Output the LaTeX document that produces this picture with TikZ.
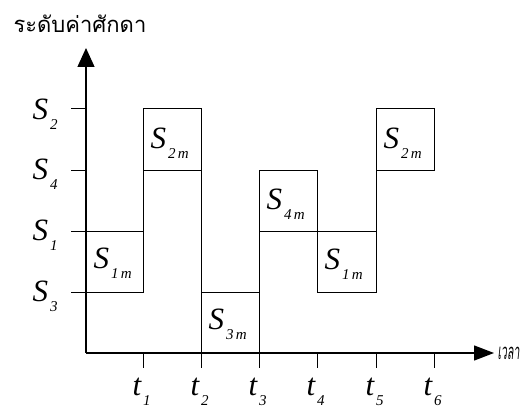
\documentclass[tikz,border=0pt]{standalone}
\usepackage{fontspec}
\setmainfont{Liberation Serif}
\newfontfamily\thaifont[Script=Thai]{Loma}
\usetikzlibrary{arrows.meta}
\newcommand{\bigS}[2]{{\fontsize{31}{31}\selectfont\itshape #1}\hspace{2pt}\raisebox{-10pt}{\fontsize{15}{15}\selectfont\itshape #2}}
\begin{document}
\begin{tikzpicture}[x=1pt,y=-1pt,line width=1pt,
  axis/.style={line width=1.3pt},
  lab/.style={inner sep=0pt,anchor=base west}]
\useasboundingbox (0,0) rectangle (528,411);
% axes
\coordinate (O) at (86,353);
\coordinate (ytop) at (86,48);
\coordinate (xend) at (494,353);
\draw[axis,-{Triangle[length=19pt,width=17pt]}] (O) -- (ytop);
\draw[axis,-{Triangle[length=20pt,width=15pt]}] (O) -- (xend);
% y ticks
\coordinate (yS2) at (71,109);
\coordinate (yS4) at (71,171);
\coordinate (yS1) at (71,232);
\coordinate (yS3) at (71,293);
\draw (yS2) -- (86,109);
\draw (yS4) -- (86,171);
% staircase / boxes
\draw (yS1) -- (143,232) -- (143,293) -- (yS3);
\draw (143,293) -- (143,109) -- (201,109) -- (201,368);
\draw (143,171) -- (201,171);
\draw (201,293) -- (259,293);
\draw (259,368) -- (259,171) -- (317,171) -- (317,293) -- (376,293) -- (376,109) -- (434,109) -- (434,171) -- (376,171);
\draw (259,232) -- (376,232);
% x ticks
\draw (143,353) -- (143,368);
\draw (317,353) -- (317,368);
\draw (376,353) -- (376,368);
\draw (434,353) -- (434,368);
% box labels
\node[lab] (b1) at (93,269) {\bigS{S}{1\,m}};
\node[lab] (b2) at (150,149) {\bigS{S}{2\,m}};
\node[lab] (b3) at (208,330) {\bigS{S}{3\,m}};
\node[lab] (b4) at (266,210) {\bigS{S}{4\,m}};
\node[lab] (b5) at (324,270) {\bigS{S}{1\,m}};
\node[lab] (b6) at (383,149) {\bigS{S}{2\,m}};
% y labels
\node[lab] (l2) at (32,120) {\bigS{S}{2}};
\node[lab] (l4) at (32,180) {\bigS{S}{4}};
\node[lab] (l1) at (32,241) {\bigS{S}{1}};
\node[lab] (l3) at (32,302) {\bigS{S}{3}};
% t labels
\node[lab] (t1) at (132,396) {\bigS{t}{1}};
\node[lab] (t2) at (190,396) {\bigS{t}{2}};
\node[lab] (t3) at (248,396) {\bigS{t}{3}};
\node[lab] (t4) at (306,396) {\bigS{t}{4}};
\node[lab] (t5) at (365,396) {\bigS{t}{5}};
\node[lab] (t6) at (423,396) {\bigS{t}{6}};
% titles
\node[lab] (ytitle) at (13,33) {\thaifont\fontsize{22}{22}\selectfont ระดับค่าศักดา};
\node[lab] (xtitle) at (497,360) {\scalebox{0.48}[1]{\thaifont\fontsize{22}{22}\selectfont\itshape เวลา}};
\end{tikzpicture}
\end{document}
